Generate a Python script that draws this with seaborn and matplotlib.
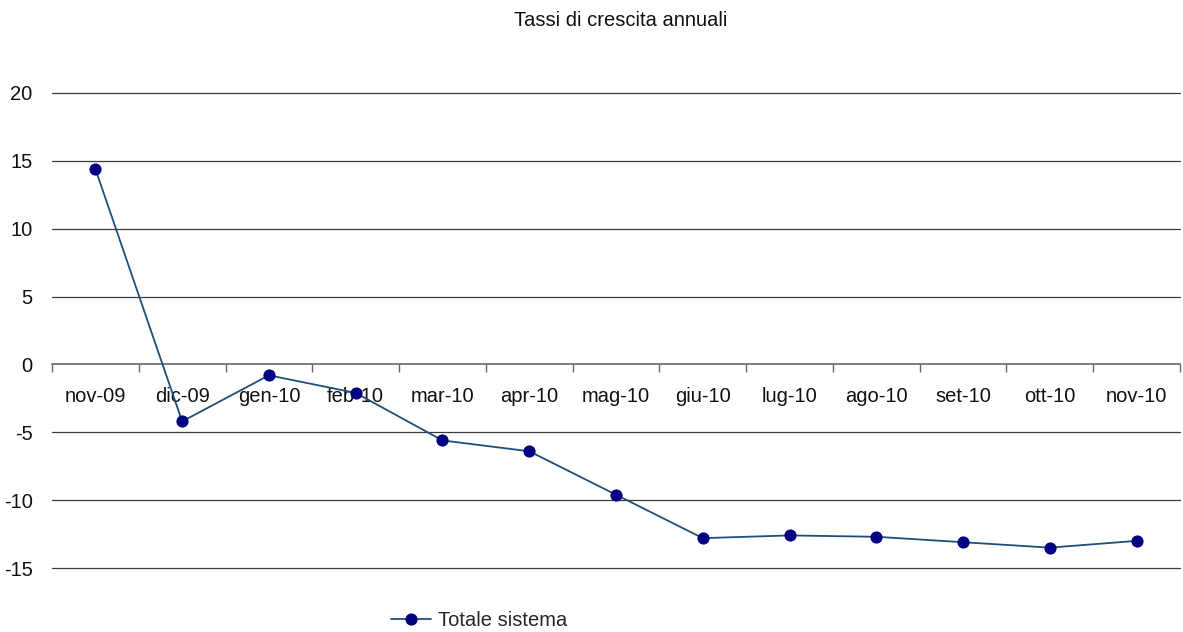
import pandas as pd
import matplotlib
matplotlib.use("Agg")
import matplotlib.pyplot as plt
import seaborn as sns

# monthly categories and annual growth rates
months = ["nov-09", "dic-09", "gen-10", "feb-10", "mar-10", "apr-10", "mag-10",
          "giu-10", "lug-10", "ago-10", "set-10", "ott-10", "nov-10"]
totale_sistema = [14.4, -4.2, -0.8, -2.1, -5.6, -6.4, -9.6,
                  -12.8, -12.6, -12.7, -13.1, -13.5, -13.0]
y_ticks = [-15, -10, -5, 0, 5, 10, 15, 20]

df = pd.DataFrame({"mese": months, "valore": totale_sistema})
df["pos"] = range(len(df))

sns.set_theme(style="white")
plt.rcParams["font.family"] = ["Liberation Sans", "DejaVu Sans"]
fs = 14.5

fig = plt.figure(figsize=(11.83, 6.32), dpi=100)
ax = fig.add_axes([52 / 1183, 1 - 568 / 632, 1128 / 1183, 475 / 632])

# horizontal gridlines
for v in y_ticks:
    if v != 0:
        ax.axhline(v, color="#3a3a3a", lw=0.9, zorder=1, clip_on=False)

sns.lineplot(data=df, x="pos", y="valore", ax=ax, color="#1F4E79", lw=1.3,
             marker="o", markersize=8, markerfacecolor="#000080",
             markeredgecolor="#000080", label="Totale sistema", legend=False,
             zorder=3, clip_on=False)

ax.set_xlim(-0.5, len(months) - 0.5)
ax.set_ylim(-15, 20)
ax.set_yticks(y_ticks)
ax.set_yticklabels([str(v) for v in y_ticks], fontsize=fs, color="#111111")
ax.tick_params(axis="y", length=0, pad=14)

# category axis sits on the zero line
for s in ["top", "right", "left"]:
    ax.spines[s].set_visible(False)
ax.spines["bottom"].set_position(("data", 0))
ax.spines["bottom"].set_color("#666666")
ax.spines["bottom"].set_linewidth(1.2)
ax.set_xticks([i - 0.5 for i in range(len(months) + 1)], minor=False)
ax.set_xticklabels([])
ax.set_xticks(list(range(len(months))), minor=True)
ax.set_xticklabels(months, minor=True, fontsize=fs, color="#111111")
ax.tick_params(axis="x", which="major", length=6, color="#666666", width=1,
               direction="out", bottom=True)
ax.tick_params(axis="x", which="minor", length=0, pad=16)
ax.set_xlabel("")
ax.set_ylabel("")

fig.text(621 / 1183, 1 - 21 / 632, "Tassi di crescita annuali", ha="center",
         va="center", fontsize=fs, color="#111111")

handles, labels = ax.get_legend_handles_labels()
fig.legend(handles, labels, loc="center", bbox_to_anchor=(479 / 1183, 1 - 621 / 632),
           frameon=False, fontsize=fs, handlelength=2.0, handletextpad=0.3)

fig.savefig("out.png", dpi=100)
